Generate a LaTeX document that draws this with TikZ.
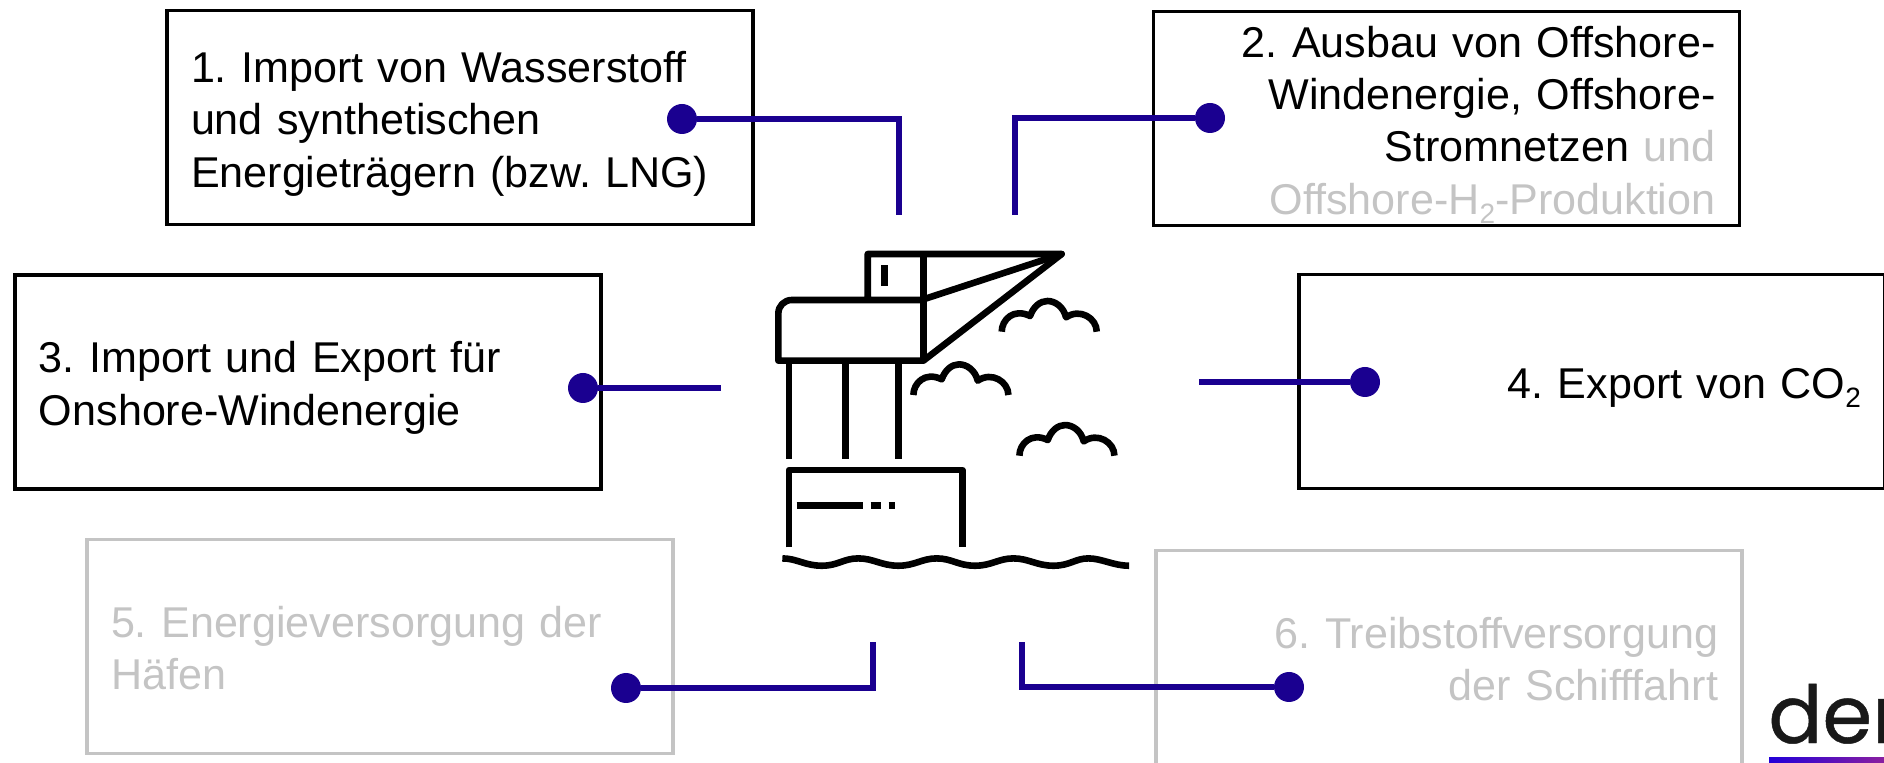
\documentclass[tikz,border=0pt]{standalone}
\usepackage{fontspec}
\setmainfont{Liberation Sans}
\newfontfamily\logofont[FakeBold=0.6]{Poppins}
\frenchspacing
\usetikzlibrary{calc}
\definecolor{linkblue}{HTML}{1A0090}
\definecolor{fadegray}{HTML}{C4C4C4}
\definecolor{logoblue}{HTML}{2200D8}
\definecolor{logopurple}{HTML}{8A1FA0}
\newcommand\lowtwo{\raisebox{-4.5pt}{\fontsize{14}{14}\selectfont 2}}
\def\wavepath{(127,985) .. controls (170,985) and (195,1007) .. (245,1007) .. controls (295,1007) and (310,985) .. (355,985) .. controls (400,985) and (425,1007) .. (475,1007) .. controls (525,1007) and (545,985) .. (590,985) .. controls (635,985) and (655,1007) .. (705,1007) .. controls (755,1007) and (775,985) .. (820,985) .. controls (865,985) and (890,1007) .. (940,1007) .. controls (990,1007) and (1005,985) .. (1045,985) .. controls (1085,985) and (1120,1007) .. (1167,1007)}
\def\cloudpath{(0,0) .. controls (0,-35) and (35,-72) .. (85,-47) .. controls (95,-75) and (115,-92) .. (137,-92) .. controls (160,-92) and (185,-75) .. (193,-43) .. controls (235,-72) and (285,-40) .. (285,0)}
\tikzset{
    plainbox/.style={draw=black,line width=1.6pt,minimum width=293pt,minimum height=107pt,text width=269pt,inner xsep=12pt,inner ysep=-3pt,font=\fontsize{21.55}{26.2}\selectfont,execute at begin node={\rule{0pt}{25pt}},execute at end node={\strut}},
    leftbox/.style={plainbox,align=left},
    rightbox/.style={plainbox,align=right},
    fadebox/.style={draw=fadegray,text=fadegray},
    linkdot/.style={circle,fill=linkblue,inner sep=0pt,minimum size=15pt},
    linkline/.style={draw=linkblue,line width=3pt},
    iconline/.style={line width=3.3pt,line join=round},
}
\begin{document}
\begin{tikzpicture}[x=0.5pt,y=-0.5pt]
    \useasboundingbox (0,0) rectangle (1884,763);
    \clip (0,0) rectangle (1884,763);
    % boxes
    \node[leftbox] (importbox) at (460,117.5) {1. Import von Wasserstoff\\und synthetischen\\Energieträgern (bzw. LNG)};
    \node[rightbox] (offshorebox) at (1446.5,118.5) {2. Ausbau von Offshore-\\Windenergie, Offshore-\\Stromnetzen \textcolor{fadegray}{und}\\\textcolor{fadegray}{Offshore-H\lowtwo-Produktion}};
    \node[leftbox] (onshorebox) at (308,382) {3. Import und Export für\\Onshore-Windenergie};
    \node[rightbox] (exportbox) at (1592,381.5) {4. Export von CO\lowtwo};
    \node[leftbox,fadebox] (hafenbox) at (380,646.5) {5. Energieversorgung der\\Häfen};
    \node[rightbox,fadebox] (fuelbox) at (1449,657.5) {6. Treibstoffversorgung\\der Schifffahrt};
    % connectors
    \node[linkdot] (importdot) at (682,119) {};
    \node[linkdot] (offshoredot) at (1210,118) {};
    \node[linkdot] (onshoredot) at (583,388) {};
    \node[linkdot] (exportdot) at (1365,382) {};
    \node[linkdot] (hafendot) at (626,688) {};
    \node[linkdot] (fueldot) at (1289,687) {};
    \coordinate (importend) at (899,215);
    \coordinate (offshoreend) at (1015,215);
    \coordinate (onshoreend) at (721,388);
    \coordinate (exportend) at (1199,382);
    \coordinate (hafenend) at (873,642);
    \coordinate (fuelend) at (1022,642);
    \draw[linkline] (importdot) -| (importend);
    \draw[linkline] (offshoredot) -| (offshoreend);
    \draw[linkline] (onshoredot) -- (onshoreend);
    \draw[linkline] (exportdot) -- (exportend);
    \draw[linkline] (hafendot) -| (hafenend);
    \draw[linkline] (fueldot) -| (fuelend);
    % crane
    \begin{scope}[shift={(740,230)},x=0.1667pt,y=-0.1667pt,iconline]
        \draw (383,210) -- (383,72) -- (965,72) -- (550,392) -- (115,392) -- (115,250) arc[start angle=180,end angle=270,radius=40] -- (550,210);
        \draw (550,72) -- (550,392);
        \draw (550,208) -- (965,72);
        \draw (433,105) -- (433,168);
        \foreach \legx in {147,317,476}
            \draw (\legx,392) -- (\legx,688);
        \draw (147,952) -- (147,720) -- (667,720) -- (667,952);
        \draw (170,826) -- (370,826) (392,826) -- (422,826) (446,826) -- (466,826);
        \draw \wavepath;
        \foreach \cx/\cy in {785/305,520/495,838/677}
            \draw[shift={(\cx,\cy)}] \cloudpath;
    \end{scope}
    % logo
    \node[anchor=base west,inner sep=0pt,font=\logofont\fontsize{40}{40}\selectfont,text=black!90] (logotext) at (1768,743) {der};
    \shade[left color=logoblue,right color=logopurple] (1769,757) rectangle (1884,763);
\end{tikzpicture}
\end{document}
